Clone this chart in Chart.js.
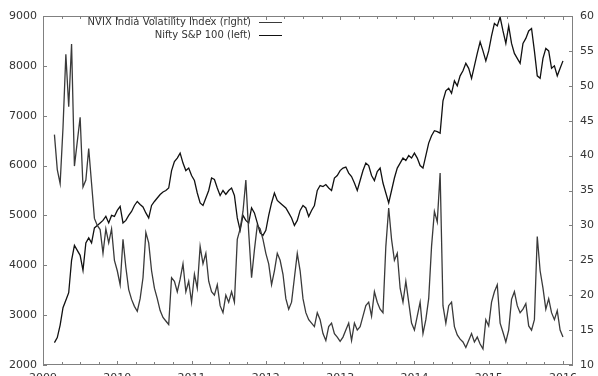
<!DOCTYPE html>
<html>
<head>
<meta charset="utf-8">
<title>NVIX India Volatility Index vs Nifty S&amp;P 100</title>
<script src="https://cdn.jsdelivr.net/npm/chart.js@4.4.1/dist/chart.umd.min.js"></script>
<style>
  html, body { margin: 0; padding: 0; background: #fff; }
  #wrap { width: 598px; height: 376px; }
</style>
</head>
<body>
<div id="wrap"><canvas id="chart" width="598" height="376"></canvas></div>
<script>
// Axis ticks
const yearTicks = [2009, 2010, 2011, 2012, 2013, 2014, 2015, 2016];
const leftTicks = [2000, 3000, 4000, 5000, 6000, 7000, 8000, 9000];
const rightTicks = [10, 15, 20, 25, 30, 35, 40, 45, 50, 55, 60];

// Nifty S&P 100 (left axis), read every two weeks; 2009 starts in early March
const nifty2009 = [2450, 2550, 2800, 3150, 3300, 3450, 4100, 4400, 4300, 4200, 3900, 4450, 4550, 4450, 4750, 4800, 4850, 4900, 4980, 4850, 5000, 4980];
const nifty2010 = [5100, 5180, 4850, 4900, 5000, 5080, 5200, 5280, 5220, 5170, 5050, 4950, 5200, 5280, 5350, 5420, 5470, 5500, 5550, 5900, 6080, 6150, 6250, 6050, 5900, 5950];
const nifty2011 = [5800, 5700, 5450, 5250, 5200, 5350, 5500, 5750, 5720, 5550, 5400, 5500, 5420, 5500, 5550, 5400, 4950, 4700, 5000, 4900, 4850, 5150, 5050, 4850, 4650, 4600];
const nifty2012 = [4700, 5000, 5250, 5450, 5300, 5250, 5200, 5150, 5050, 4950, 4800, 4900, 5100, 5200, 5150, 4980, 5100, 5200, 5500, 5600, 5580, 5620, 5550, 5500, 5750, 5800];
const nifty2013 = [5900, 5950, 5970, 5850, 5780, 5650, 5500, 5700, 5900, 6050, 6000, 5800, 5700, 5880, 5950, 5650, 5450, 5250, 5500, 5750, 5950, 6050, 6150, 6100, 6200, 6150];
const nifty2014 = [6250, 6150, 6000, 5950, 6200, 6450, 6600, 6700, 6680, 6650, 7300, 7500, 7550, 7450, 7700, 7600, 7800, 7900, 8050, 7950, 7750, 8000, 8250, 8480, 8300, 8100];
const nifty2015 = [8300, 8600, 8850, 8800, 8980, 8700, 8450, 8800, 8450, 8250, 8150, 8050, 8450, 8550, 8700, 8750, 8300, 7800, 7750, 8150, 8350, 8300, 7950, 8000, 7800, 7950, 8100];

// NVIX India Volatility Index (right axis), same dates
const nvix2009 = [43, 38, 36, 44, 54.5, 47, 56, 38.5, 42, 45.5, 35.5, 36.5, 41, 36, 31, 30, 29.4, 26, 29.5, 27.5, 29.5, 25];
const nvix2010 = [23.5, 21.5, 28, 24, 20.8, 19.4, 18.4, 17.7, 19.5, 22.5, 29, 27.5, 23.5, 21, 19.5, 17.8, 16.8, 16.3, 15.8, 22.5, 22, 20.5, 22.3, 24.5, 20.5, 22];
const nvix2011 = [19, 23, 21, 27, 24.5, 26, 22, 20.5, 20, 21.5, 18.5, 17.5, 20, 19, 20.5, 19, 28, 29.5, 32, 36.5, 29, 22.5, 26.5, 30, 29.5, 28];
const nvix2012 = [26, 24.5, 21.5, 23.5, 26, 25, 23, 19.5, 18, 19, 22.5, 26, 23.5, 19.5, 17.5, 16.5, 16, 15.5, 17.5, 16.5, 14.5, 13.5, 15.5, 16, 14.5, 14];
const nvix2013 = [13.4, 14, 15, 16, 13.5, 16, 15, 15.5, 17, 18.5, 19, 17, 20.5, 19, 18, 17.5, 27, 32.5, 28, 25, 26, 21, 19, 22, 19, 16];
const nvix2014 = [15, 17, 19, 14.5, 16.5, 19.5, 27, 32, 30.5, 37.5, 18.5, 16, 18.5, 19, 15.5, 14.3, 13.7, 13.3, 12.5, 13.5, 14.5, 13.3, 14, 13, 12.3, 16.5];
const nvix2015 = [15.6, 19, 20.5, 21.5, 16, 14.7, 13.3, 15, 19.4, 20.5, 18.5, 17.5, 18, 18.8, 15.6, 15, 16.5, 28.4, 23.5, 21, 18, 19.5, 17.5, 16.5, 17.8, 15, 14];

// turn a year's values into {x, y} points, 26 steps per year
function toPoints(year, firstStep, values) {
    return values.map((v, i) => ({ x: year + (firstStep + i) / 26, y: v }));
}

const niftyData = [].concat(
    toPoints(2009, 4, nifty2009), toPoints(2010, 0, nifty2010), toPoints(2011, 0, nifty2011),
    toPoints(2012, 0, nifty2012), toPoints(2013, 0, nifty2013), toPoints(2014, 0, nifty2014),
    toPoints(2015, 0, nifty2015)
);
const nvixData = [].concat(
    toPoints(2009, 4, nvix2009), toPoints(2010, 0, nvix2010), toPoints(2011, 0, nvix2011),
    toPoints(2012, 0, nvix2012), toPoints(2013, 0, nvix2013), toPoints(2014, 0, nvix2014),
    toPoints(2015, 0, nvix2015)
);

const labelFont = { family: 'DejaVu Sans', size: 11 };
const textColor = '#333';

// no label overhang padding on the value axes, the box is placed by hand
function fixAxis(width) {
    return s => {
        s.width = width;
        s.paddingTop = 0;
        s.paddingBottom = 0;
    };
}

// gnuplot style box, inward ticks, year labels and legend
const framePlugin = {
    id: 'framePlugin',
    afterDraw(chart) {
        const ctx = chart.ctx;
        const a = chart.chartArea;
        const x = chart.scales.x;
        const yl = chart.scales.yLeft;
        const yr = chart.scales.yRight;
        ctx.save();
        ctx.strokeStyle = '#808080';
        ctx.lineWidth = 1;
        ctx.strokeRect(a.left + 0.5, a.top + 0.5, a.right - a.left - 1, a.bottom - a.top - 1);

        ctx.beginPath();
        for (let q = 2009; q <= 2016.01; q += 0.25) {
            const px = Math.round(x.getPixelForValue(q)) + 0.5;
            const len = Math.abs(q - Math.round(q)) < 0.01 ? 4 : 3;
            ctx.moveTo(px, a.bottom);
            ctx.lineTo(px, a.bottom - len);
            ctx.moveTo(px, a.top);
            ctx.lineTo(px, a.top + len);
        }
        leftTicks.forEach(v => {
            const py = Math.round(yl.getPixelForValue(v)) + 0.5;
            ctx.moveTo(a.left, py);
            ctx.lineTo(a.left + 4, py);
        });
        rightTicks.forEach(v => {
            const py = Math.round(yr.getPixelForValue(v)) + 0.5;
            ctx.moveTo(a.right, py);
            ctx.lineTo(a.right - 4, py);
        });
        ctx.stroke();

        // year labels (cut off by the bottom edge, as in the original)
        ctx.fillStyle = textColor;
        ctx.font = '11px "DejaVu Sans"';
        ctx.textAlign = 'center';
        ctx.textBaseline = 'top';
        yearTicks.forEach(v => {
            ctx.fillText(String(v), x.getPixelForValue(v), a.bottom + 8);
        });

        // legend: text right aligned, then a line sample
        ctx.font = '10px "DejaVu Sans"';
        ctx.textAlign = 'right';
        ctx.textBaseline = 'middle';
        chart.data.datasets.forEach((ds, i) => {
            const ly = 22 + i * 13;
            ctx.fillStyle = textColor;
            ctx.fillText(ds.label, 251, ly);
            ctx.strokeStyle = ds.borderColor;
            ctx.beginPath();
            ctx.moveTo(259, ly + 0.5);
            ctx.lineTo(282, ly + 0.5);
            ctx.stroke();
        });
        ctx.restore();
    }
};

new Chart(document.getElementById('chart'), {
    type: 'line',
    data: {
        datasets: [{
            label: 'NVIX India Volatility Index (right)',
            data: nvixData,
            yAxisID: 'yRight',
            borderColor: '#3a3a3a',
            borderWidth: 1.3
        }, {
            label: 'Nifty S&P 100 (left)',
            data: niftyData,
            yAxisID: 'yLeft',
            borderColor: '#111',
            borderWidth: 1.3
        }]
    },
    options: {
        responsive: false,
        animation: false,
        devicePixelRatio: 1,
        layout: { padding: { top: 16, left: 0, right: 0, bottom: 0 } },
        elements: { point: { radius: 0 }, line: { tension: 0 } },
        plugins: { legend: { display: false }, tooltip: { enabled: false } },
        scales: {
            x: {
                type: 'linear',
                min: 2009,
                max: 2016.135,
                grid: { display: false, drawTicks: false },
                border: { display: false },
                ticks: { display: false },
                afterBuildTicks: s => { s.ticks = yearTicks.map(v => ({ value: v })); },
                afterFit: s => { s.height = 11; }
            },
            yLeft: {
                position: 'left',
                min: 2000,
                max: 9000,
                grid: { display: false, drawTicks: false },
                border: { display: false },
                ticks: { stepSize: 1000, padding: 6, color: textColor, font: labelFont, callback: v => String(v) },
                afterFit: fixAxis(43)
            },
            yRight: {
                position: 'right',
                min: 10,
                max: 60,
                grid: { display: false, drawTicks: false },
                border: { display: false },
                ticks: { stepSize: 5, padding: 7, color: textColor, font: labelFont, callback: v => String(v) },
                afterFit: fixAxis(25)
            }
        }
    },
    plugins: [framePlugin]
});
</script>
</body>
</html>
